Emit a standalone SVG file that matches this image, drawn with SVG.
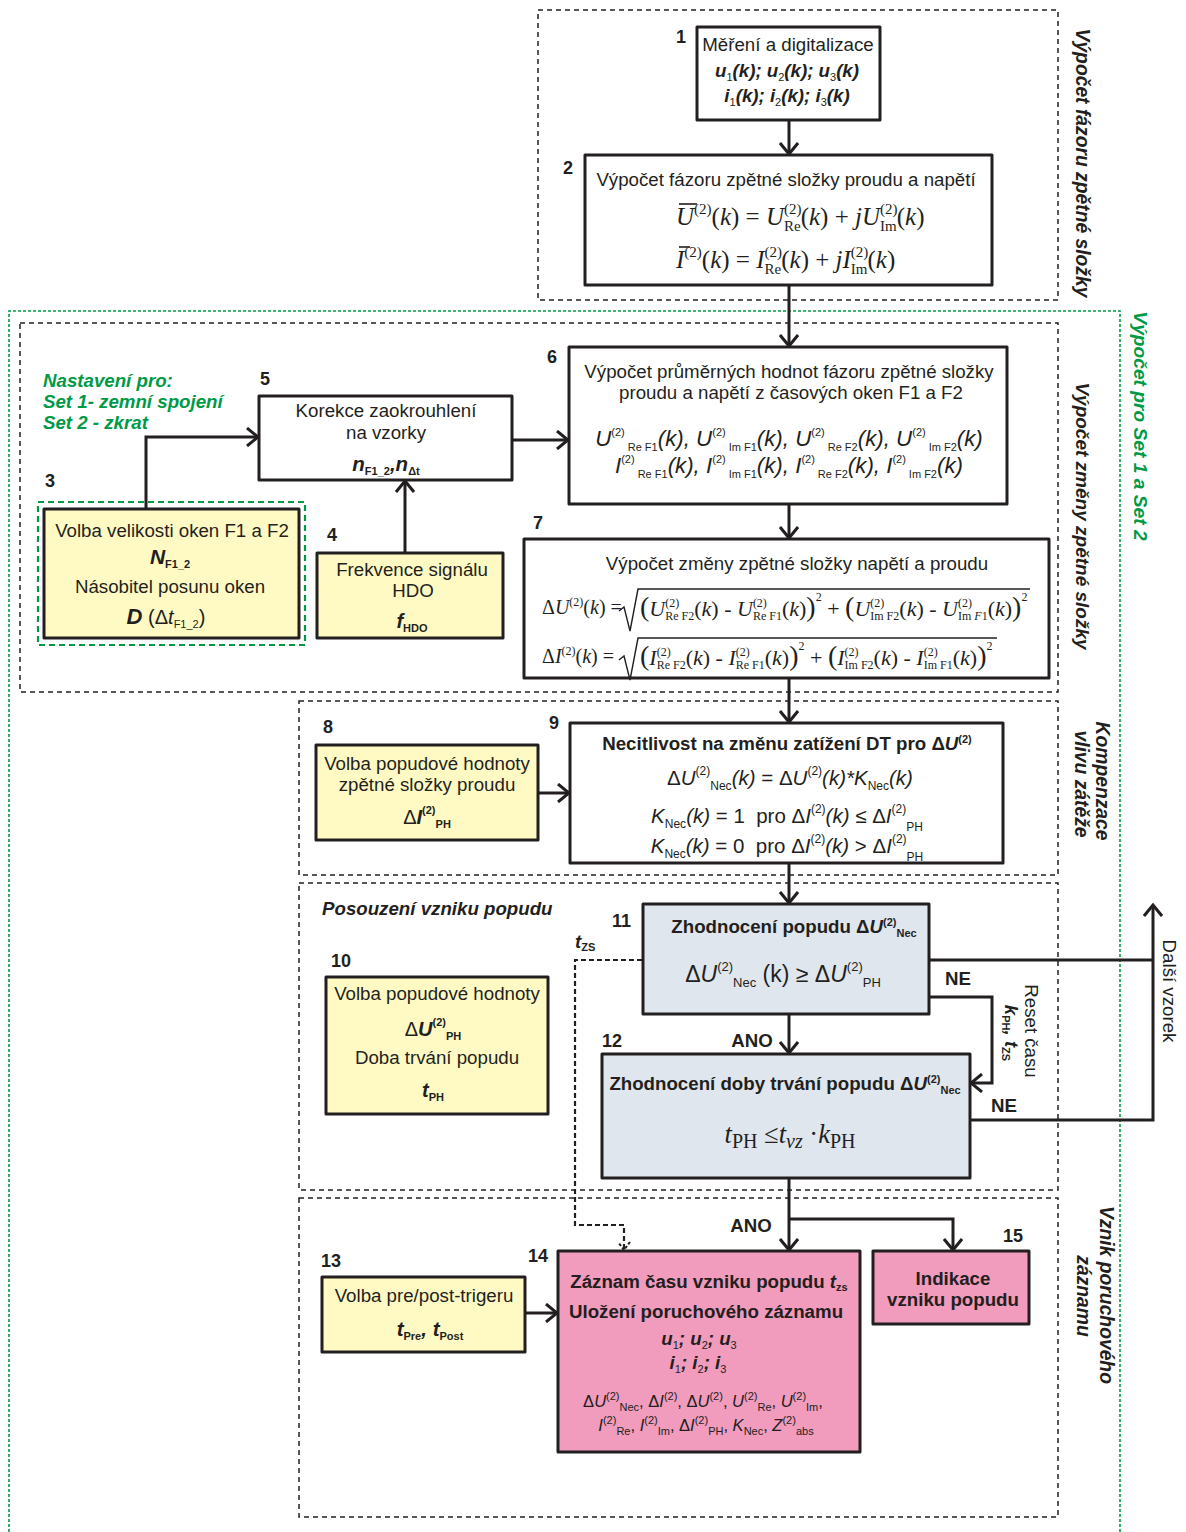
<svg xmlns="http://www.w3.org/2000/svg" width="1186" height="1532" viewBox="0 0 1186 1532">
<style>
.t{font-family:"Liberation Sans",Arial,sans-serif;font-size:18.7px;fill:#231f20;text-anchor:middle}
.l{text-anchor:start}
.b{font-weight:bold}
.i{font-style:italic}
.m{font-family:"Liberation Serif","Times New Roman",serif;fill:#231f20;font-size:25px;text-anchor:start}
.mi{font-style:italic}
.n{font-family:"Liberation Sans",Arial,sans-serif;font-size:18px;font-weight:bold;fill:#231f20}
.s{font-size:11px;font-weight:normal;font-style:normal}
.sb{font-size:11px;font-weight:bold;font-style:normal}
.p{font-size:13px;font-style:normal;font-weight:normal}
.q{font-size:11px;font-style:normal;font-weight:normal}
.g{fill:#009a46}
.box{stroke:#231f20;stroke-width:3;stroke-linejoin:round}
.w{fill:#ffffff}
.y{fill:#fffac4}
.bl{fill:#dfe6ed}
.pk{fill:#f19bbd}
.grp{fill:none;stroke:#231f20;stroke-width:1.5;stroke-dasharray:5 4}
.ggrp{fill:none;stroke:#009a46;stroke-width:1.6;stroke-dasharray:3 2}
.c{fill:none;stroke:#231f20;stroke-width:3}
.cd{fill:none;stroke:#231f20;stroke-width:2.2;stroke-dasharray:5 3}
.rad{fill:none;stroke:#231f20;stroke-width:1.4}
</style>
<defs>
<marker id="ah" viewBox="-13 -10 15 20" refX="0" refY="0" markerWidth="15" markerHeight="20" markerUnits="userSpaceOnUse" orient="auto">
<path d="M-11,-9 L0,0 L-11,9" fill="none" stroke="#231f20" stroke-width="3"/>
</marker>
<marker id="ahd" viewBox="-10 -8 12 16" refX="0" refY="0" markerWidth="12" markerHeight="16" markerUnits="userSpaceOnUse" orient="auto">
<path d="M-8,-6 L0,0 L-8,6" fill="none" stroke="#231f20" stroke-width="2" stroke-dasharray="3 2"/>
</marker>
</defs>
<rect width="1186" height="1532" fill="#ffffff"/>

<g id="groups">
<path class="ggrp" d="M9,1532 V311 H1120 V1532"/>
<rect class="grp" x="538" y="10" width="520" height="290"/>
<rect class="grp" x="20" y="323" width="1038" height="369"/>
<rect class="grp" x="299" y="701" width="759" height="174"/>
<rect class="grp" x="299" y="883" width="759" height="307"/>
<rect class="grp" x="299" y="1198" width="759" height="319"/>
<rect x="38" y="502" width="267" height="143" fill="none" stroke="#009a46" stroke-width="2.2" stroke-dasharray="6 4"/>
<text class="t b i" style="font-size:19.3px" transform="translate(1076,163) rotate(90)">Výpočet fázoru  zpětné složky</text>
<text class="t b i g" style="font-size:19.2px" transform="translate(1134,426) rotate(90)">Výpočet pro Set 1 a Set 2</text>
<text class="t b i" style="font-size:19px" transform="translate(1076,516) rotate(90)">Výpočet změny zpětné složky</text>
<text class="t b i" style="font-size:19.3px" transform="translate(1096,781) rotate(90)">Kompenzace</text>
<text class="t b i" style="font-size:19.3px" transform="translate(1075,784) rotate(90)">vlivu zátěže</text>
<text class="t b i" style="font-size:19.3px" transform="translate(1100,1295) rotate(90)">Vznik poruchového</text>
<text class="t b i" style="font-size:19.3px" transform="translate(1077,1296) rotate(90)">záznamu</text>
<text class="t b i g l" x="43" y="387">Nastavení pro:</text>
<text class="t b i g l" x="43" y="408">Set 1- zemní spojení</text>
<text class="t b i g l" x="43" y="429">Set 2 - zkrat</text>
<text class="t b i l" x="322" y="915">Posouzení vzniku popudu</text>
</g>

<g id="connectors">
<path class="c" d="M789,120 V154" marker-end="url(#ah)"/>
<path class="c" d="M789,285 V346" marker-end="url(#ah)"/>
<path class="c" d="M146,509 V437 H258" marker-end="url(#ah)"/>
<path class="c" d="M405,553 V481" marker-end="url(#ah)"/>
<path class="c" d="M512,440 H568" marker-end="url(#ah)"/>
<path class="c" d="M789,504 V538" marker-end="url(#ah)"/>
<path class="c" d="M789,678 V722" marker-end="url(#ah)"/>
<path class="c" d="M538,793 H569" marker-end="url(#ah)"/>
<path class="c" d="M789,863 V903" marker-end="url(#ah)"/>
<path class="c" d="M789,1014 V1053" marker-end="url(#ah)"/>
<path class="c" d="M929,997 H992 V1083 H971" marker-end="url(#ah)"/>
<path class="c" d="M929,960 H1153"/>
<path class="c" d="M970,1120 H1153 V905" marker-end="url(#ah)"/>
<path class="c" d="M789,1178 V1250" marker-end="url(#ah)"/>
<path class="c" d="M789,1219 H953 V1250" marker-end="url(#ah)"/>
<path class="c" d="M525,1313 H557" marker-end="url(#ah)"/>
<path class="cd" d="M642,960 H575 V1225 H624 V1250" marker-end="url(#ahd)"/>
<text class="t b" x="958" y="985">NE</text>
<text class="t b" x="1004" y="1112">NE</text>
<text class="t b" x="752" y="1047">ANO</text>
<text class="t b" x="751" y="1232">ANO</text>
<text class="t b i l" x="575" y="948">t<tspan class="sb" dy="3">ZS</tspan></text>
<text class="t" transform="translate(1163,991) rotate(90)">Další vzorek</text>
<text class="t" transform="translate(1025,1031) rotate(90)">Reset času</text>
<text class="t b i" transform="translate(1005,1033) rotate(90)">k<tspan class="sb" dy="3">PH</tspan><tspan dy="-3">, t</tspan><tspan class="sb" dy="3">ZS</tspan></text>
</g>

<g id="node1">
<rect class="box w" x="697" y="27" width="183" height="93"/>
<text class="n" x="676" y="43">1</text>
<text class="t" x="788" y="51">Měření a digitalizace</text>
<text class="t b i" x="787" y="77">u<tspan class="s" dy="4">1</tspan><tspan dy="-4">(k); u</tspan><tspan class="s" dy="4">2</tspan><tspan dy="-4">(k); u</tspan><tspan class="s" dy="4">3</tspan><tspan dy="-4">(k)</tspan></text>
<text class="t b i" x="787" y="102">i<tspan class="s" dy="4">1</tspan><tspan dy="-4">(k); i</tspan><tspan class="s" dy="4">2</tspan><tspan dy="-4">(k); i</tspan><tspan class="s" dy="4">3</tspan><tspan dy="-4">(k)</tspan></text>
</g>

<g id="node2">
<rect class="box w" x="585" y="155" width="407" height="130"/>
<text class="n" x="563" y="174">2</text>
<text class="t" x="786" y="186">Výpočet fázoru zpětné složky proudu a napětí</text>
<line x1="679" y1="204" x2="697" y2="204" stroke="#231f20" stroke-width="1.6"/>
<text class="m" x="676" y="225"><tspan class="mi">U</tspan><tspan font-size="15" dy="-11">(2)</tspan><tspan dy="11">(</tspan><tspan class="mi">k</tspan>) = <tspan class="mi">U</tspan><tspan font-size="15" dy="-11">(2)</tspan><tspan font-size="15" dx="-17.5" dy="17">Re</tspan><tspan dy="-6">(</tspan><tspan class="mi">k</tspan>) + <tspan class="mi">jU</tspan><tspan font-size="15" dy="-11">(2)</tspan><tspan font-size="15" dx="-17.5" dy="17">Im</tspan><tspan dy="-6">(</tspan><tspan class="mi">k</tspan>)</text>
<line x1="679" y1="247" x2="690" y2="247" stroke="#231f20" stroke-width="1.6"/>
<text class="m" x="676" y="268"><tspan class="mi">I</tspan><tspan font-size="15" dy="-11">(2)</tspan><tspan dy="11">(</tspan><tspan class="mi">k</tspan>) = <tspan class="mi">I</tspan><tspan font-size="15" dy="-11">(2)</tspan><tspan font-size="15" dx="-17.5" dy="17">Re</tspan><tspan dy="-6">(</tspan><tspan class="mi">k</tspan>) + <tspan class="mi">jI</tspan><tspan font-size="15" dy="-11">(2)</tspan><tspan font-size="15" dx="-17.5" dy="17">Im</tspan><tspan dy="-6">(</tspan><tspan class="mi">k</tspan>)</text>
</g>

<g id="node3">
<rect class="box y" x="44" y="509" width="255" height="129"/>
<text class="n" x="45" y="487">3</text>
<text class="t" x="172" y="537">Volba velikosti oken F1 a F2</text>
<text class="t b i" x="170" y="564" style="font-size:21px">N<tspan class="sb" dy="4">F1_2</tspan></text>
<text class="t" x="170" y="593">Násobitel posunu oken</text>
<text class="t" x="166" y="624" style="font-size:20px"><tspan class="b i" font-size="22">D</tspan> (Δ<tspan class="i">t</tspan><tspan class="s" dy="4">F1_2</tspan><tspan dy="-4">)</tspan></text>
</g>

<g id="node4">
<rect class="box y" x="317" y="553" width="186" height="85"/>
<text class="n" x="327" y="541">4</text>
<text class="t" x="412" y="576">Frekvence signálu</text>
<text class="t" x="413" y="597">HDO</text>
<text class="t b i" x="412" y="628" style="font-size:20px">f<tspan class="sb" dy="4">HDO</tspan></text>
</g>

<g id="node5">
<rect class="box w" x="259" y="396" width="253" height="84"/>
<text class="n" x="260" y="385">5</text>
<text class="t" x="386" y="417">Korekce zaokrouhlení</text>
<text class="t" x="386" y="439">na vzorky</text>
<text class="t b i" x="386" y="471" style="font-size:20.5px">n<tspan class="sb" dy="4">F1_2</tspan><tspan dy="-4">,n</tspan><tspan class="sb" dy="4">Δt</tspan></text>
</g>

<g id="node6">
<rect class="box w" x="569" y="347" width="438" height="157"/>
<text class="n" x="547" y="363">6</text>
<text class="t" x="789" y="378">Výpočet průměrných hodnot fázoru zpětné složky</text>
<text class="t" x="791" y="399">proudu a napětí z časových oken F1 a F2</text>
<text class="t i" x="789" y="446" style="font-size:22.3px">U<tspan class="q" dy="-10">(2)</tspan><tspan class="q" dx="3" dy="15">Re F1</tspan><tspan dy="-5">(k), U</tspan><tspan class="q" dy="-10">(2)</tspan><tspan class="q" dx="3" dy="15">Im F1</tspan><tspan dy="-5">(k), U</tspan><tspan class="q" dy="-10">(2)</tspan><tspan class="q" dx="3" dy="15">Re F2</tspan><tspan dy="-5">(k), U</tspan><tspan class="q" dy="-10">(2)</tspan><tspan class="q" dx="3" dy="15">Im F2</tspan><tspan dy="-5">(k)</tspan></text>
<text class="t i" x="789" y="473" style="font-size:22.3px">I<tspan class="q" dy="-10">(2)</tspan><tspan class="q" dx="3" dy="15">Re F1</tspan><tspan dy="-5">(k), I</tspan><tspan class="q" dy="-10">(2)</tspan><tspan class="q" dx="3" dy="15">Im F1</tspan><tspan dy="-5">(k), I</tspan><tspan class="q" dy="-10">(2)</tspan><tspan class="q" dx="3" dy="15">Re F2</tspan><tspan dy="-5">(k), I</tspan><tspan class="q" dy="-10">(2)</tspan><tspan class="q" dx="3" dy="15">Im F2</tspan><tspan dy="-5">(k)</tspan></text>
</g>

<g id="node7">
<rect class="box w" x="524" y="539" width="525" height="139"/>
<text class="n" x="533" y="529">7</text>
<text class="t" x="797" y="570">Výpočet změny zpětné složky napětí a proudu</text>
<text class="m" x="542" y="614" style="font-size:20px">Δ<tspan class="mi">U</tspan><tspan font-size="12" dy="-8">(2)</tspan><tspan dy="8">(</tspan><tspan class="mi">k</tspan>) =</text>
<path class="rad" d="M619,611 L624,607 L630,631 L638,589 L1030,589"/>
<text class="m" x="640" y="616" style="font-size:22px"><tspan font-size="28">(</tspan><tspan class="mi">U</tspan><tspan font-size="12" dy="-9">(2)</tspan><tspan font-size="12" dx="-14" dy="13">Re F2</tspan><tspan dy="-4">(</tspan><tspan class="mi">k</tspan>) - <tspan class="mi">U</tspan><tspan font-size="12" dy="-9">(2)</tspan><tspan font-size="12" dx="-14" dy="13">Re F1</tspan><tspan dy="-4">(</tspan><tspan class="mi">k</tspan>)<tspan font-size="28">)</tspan><tspan font-size="12" dy="-15">2</tspan><tspan dy="15"> + </tspan><tspan font-size="28">(</tspan><tspan class="mi">U</tspan><tspan font-size="12" dy="-9">(2)</tspan><tspan font-size="12" dx="-14" dy="13">Im F2</tspan><tspan dy="-4">(</tspan><tspan class="mi">k</tspan>) - <tspan class="mi">U</tspan><tspan font-size="12" dy="-9">(2)</tspan><tspan font-size="12" dx="-14" dy="13">Im <tspan class="mi">F</tspan>1</tspan><tspan dy="-4">(</tspan><tspan class="mi">k</tspan>)<tspan font-size="28">)</tspan><tspan font-size="12" dy="-15">2</tspan></text>
<text class="m" x="542" y="663" style="font-size:20px">Δ<tspan class="mi">I</tspan><tspan font-size="12" dy="-8">(2)</tspan><tspan dy="8">(</tspan><tspan class="mi">k</tspan>) =</text>
<path class="rad" d="M619,660 L624,656 L630,680 L638,638 L997,638"/>
<text class="m" x="640" y="665" style="font-size:22px"><tspan font-size="28">(</tspan><tspan class="mi">I</tspan><tspan font-size="12" dy="-9">(2)</tspan><tspan font-size="12" dx="-14" dy="13">Re F2</tspan><tspan dy="-4">(</tspan><tspan class="mi">k</tspan>) - <tspan class="mi">I</tspan><tspan font-size="12" dy="-9">(2)</tspan><tspan font-size="12" dx="-14" dy="13">Re F1</tspan><tspan dy="-4">(</tspan><tspan class="mi">k</tspan>)<tspan font-size="28">)</tspan><tspan font-size="12" dy="-15">2</tspan><tspan dy="15"> + </tspan><tspan font-size="28">(</tspan><tspan class="mi">I</tspan><tspan font-size="12" dy="-9">(2)</tspan><tspan font-size="12" dx="-14" dy="13">Im F2</tspan><tspan dy="-4">(</tspan><tspan class="mi">k</tspan>) - <tspan class="mi">I</tspan><tspan font-size="12" dy="-9">(2)</tspan><tspan font-size="12" dx="-14" dy="13">Im F1</tspan><tspan dy="-4">(</tspan><tspan class="mi">k</tspan>)<tspan font-size="28">)</tspan><tspan font-size="12" dy="-15">2</tspan></text>
</g>

<g id="node8">
<rect class="box y" x="316" y="745" width="222" height="95"/>
<text class="n" x="323" y="733">8</text>
<text class="t" x="427" y="770">Volba popudové hodnoty</text>
<text class="t" x="427" y="791">zpětné složky proudu</text>
<text class="t" x="427" y="824" style="font-size:20px">Δ<tspan class="b i">I</tspan><tspan class="sb" dy="-10">(2)</tspan><tspan class="sb" dy="14">PH</tspan></text>
</g>

<g id="node9">
<rect class="box w" x="570" y="723" width="433" height="140"/>
<text class="n" x="549" y="729">9</text>
<text class="t b" x="787" y="750">Necitlivost na změnu zatížení DT pro Δ<tspan class="i">U</tspan><tspan class="sb" dy="-7">(2)</tspan></text>
<text class="t" x="790" y="785" style="font-size:20.5px">Δ<tspan class="i">U</tspan><tspan font-size="12" dy="-10">(2)</tspan><tspan font-size="12" dy="15">Nec</tspan><tspan class="i" dy="-5">(k)</tspan> = Δ<tspan class="i">U</tspan><tspan font-size="12" dy="-10">(2)</tspan><tspan class="i" dy="10">(k)*K</tspan><tspan font-size="12" dy="5">Nec</tspan><tspan class="i" dy="-5">(k)</tspan></text>
<text class="t" x="787" y="823" style="font-size:20.5px"><tspan class="i">K</tspan><tspan font-size="12" dy="5">Nec</tspan><tspan class="i" dy="-5">(k)</tspan> = 1&#160;&#160;pro Δ<tspan class="i">I</tspan><tspan font-size="12" dy="-10">(2)</tspan><tspan class="i" dy="10">(k)</tspan> ≤ Δ<tspan class="i">I</tspan><tspan font-size="12" dy="-10">(2)</tspan><tspan font-size="12" dy="18">PH</tspan></text>
<text class="t" x="787" y="853" style="font-size:20.5px"><tspan class="i">K</tspan><tspan font-size="12" dy="5">Nec</tspan><tspan class="i" dy="-5">(k)</tspan> = 0&#160;&#160;pro Δ<tspan class="i">I</tspan><tspan font-size="12" dy="-10">(2)</tspan><tspan class="i" dy="10">(k)</tspan> &gt; Δ<tspan class="i">I</tspan><tspan font-size="12" dy="-10">(2)</tspan><tspan font-size="12" dy="18">PH</tspan></text>
</g>

<g id="node10">
<rect class="box y" x="326" y="977" width="222" height="137"/>
<text class="n" x="331" y="967">10</text>
<text class="t" x="437" y="1000">Volba popudové hodnoty</text>
<text class="t" x="433" y="1036" style="font-size:20px">Δ<tspan class="b i">U</tspan><tspan class="sb" dy="-10">(2)</tspan><tspan class="sb" dy="14">PH</tspan></text>
<text class="t" x="437" y="1064">Doba trvání popudu</text>
<text class="t b i" x="433" y="1097" style="font-size:20px">t<tspan class="sb" dy="4">PH</tspan></text>
</g>

<g id="node11">
<rect class="box bl" x="643" y="904" width="286" height="110"/>
<text class="n" x="612" y="927">11</text>
<text class="t b" x="794" y="933">Zhodnocení popudu Δ<tspan class="i">U</tspan><tspan class="sb" dy="-7">(2)</tspan><tspan class="sb" dy="11">Nec</tspan></text>
<text class="t" x="783" y="982" style="font-size:23px">Δ<tspan class="i">U</tspan><tspan class="p" dy="-11">(2)</tspan><tspan class="p" dy="16">Nec</tspan><tspan dy="-5"> (k) ≥ Δ</tspan><tspan class="i">U</tspan><tspan class="p" dy="-11">(2)</tspan><tspan class="p" dy="16">PH</tspan></text>
</g>

<g id="node12">
<rect class="box bl" x="602" y="1054" width="368" height="124"/>
<text class="n" x="602" y="1047">12</text>
<text class="t b" x="785" y="1090">Zhodnocení doby trvání popudu Δ<tspan class="i">U</tspan><tspan class="sb" dy="-7">(2)</tspan><tspan class="sb" dy="11">Nec</tspan></text>
<text class="m" x="790" y="1143" style="font-size:26.5px;text-anchor:middle"><tspan class="mi">t</tspan><tspan font-size="20" dy="5">PH</tspan><tspan dy="-5"> ≤</tspan><tspan class="mi">t</tspan><tspan class="mi" font-size="20" dy="5">vz</tspan><tspan dy="-5"> ·</tspan><tspan class="mi">k</tspan><tspan font-size="20" dy="5">PH</tspan></text>
</g>

<g id="node13">
<rect class="box y" x="322" y="1277" width="203" height="75"/>
<text class="n" x="321" y="1267">13</text>
<text class="t" x="424" y="1302">Volba pre/post-trigeru</text>
<text class="t b i" x="430" y="1336" style="font-size:20.5px">t<tspan class="sb" font-size="12" dy="4">Pre</tspan><tspan dy="-4">, t</tspan><tspan class="sb" font-size="12" dy="4">Post</tspan></text>
</g>

<g id="node14">
<rect class="box pk" x="558" y="1251" width="302" height="201"/>
<text class="n" x="528" y="1262">14</text>
<text class="t b" x="709" y="1288">Záznam času vzniku popudu <tspan class="i">t</tspan><tspan class="sb" dy="3">zs</tspan></text>
<text class="t b" x="706" y="1318">Uložení poruchového záznamu</text>
<text class="t b i" x="699" y="1345">u<tspan class="s" dy="4">1</tspan><tspan dy="-4">; u</tspan><tspan class="s" dy="4">2</tspan><tspan dy="-4">; u</tspan><tspan class="s" dy="4">3</tspan></text>
<text class="t b i" x="698" y="1369">i<tspan class="s" dy="4">1</tspan><tspan dy="-4">; i</tspan><tspan class="s" dy="4">2</tspan><tspan dy="-4">; i</tspan><tspan class="s" dy="4">3</tspan></text>
<text class="t" x="703" y="1407" style="font-size:16.5px">Δ<tspan class="i">U</tspan><tspan class="s" dy="-7">(2)</tspan><tspan class="s" dy="11">Nec</tspan><tspan dy="-4">, Δ</tspan><tspan class="i">I</tspan><tspan class="s" dy="-7">(2)</tspan><tspan dy="7">, Δ</tspan><tspan class="i">U</tspan><tspan class="s" dy="-7">(2)</tspan><tspan dy="7">, </tspan><tspan class="i">U</tspan><tspan class="s" dy="-7">(2)</tspan><tspan class="s" dy="11">Re</tspan><tspan dy="-4">, </tspan><tspan class="i">U</tspan><tspan class="s" dy="-7">(2)</tspan><tspan class="s" dy="11">Im</tspan><tspan dy="-4">,</tspan></text>
<text class="t" x="706" y="1431" style="font-size:16.5px"><tspan class="i">I</tspan><tspan class="s" dy="-7">(2)</tspan><tspan class="s" dy="11">Re</tspan><tspan dy="-4">, </tspan><tspan class="i">I</tspan><tspan class="s" dy="-7">(2)</tspan><tspan class="s" dy="11">Im</tspan><tspan dy="-4">, Δ</tspan><tspan class="i">I</tspan><tspan class="s" dy="-7">(2)</tspan><tspan class="s" dy="11">PH</tspan><tspan dy="-4">, </tspan><tspan class="i">K</tspan><tspan class="s" dy="4">Nec</tspan><tspan dy="-4">, </tspan><tspan class="i">Z</tspan><tspan class="s" dy="-7">(2)</tspan><tspan class="s" dy="11">abs</tspan></text>
</g>

<g id="node15">
<rect class="box pk" x="873" y="1251" width="156" height="73"/>
<text class="n" x="1003" y="1242">15</text>
<text class="t b" x="953" y="1285">Indikace</text>
<text class="t b" x="953" y="1306">vzniku popudu</text>
</g>
</svg>
